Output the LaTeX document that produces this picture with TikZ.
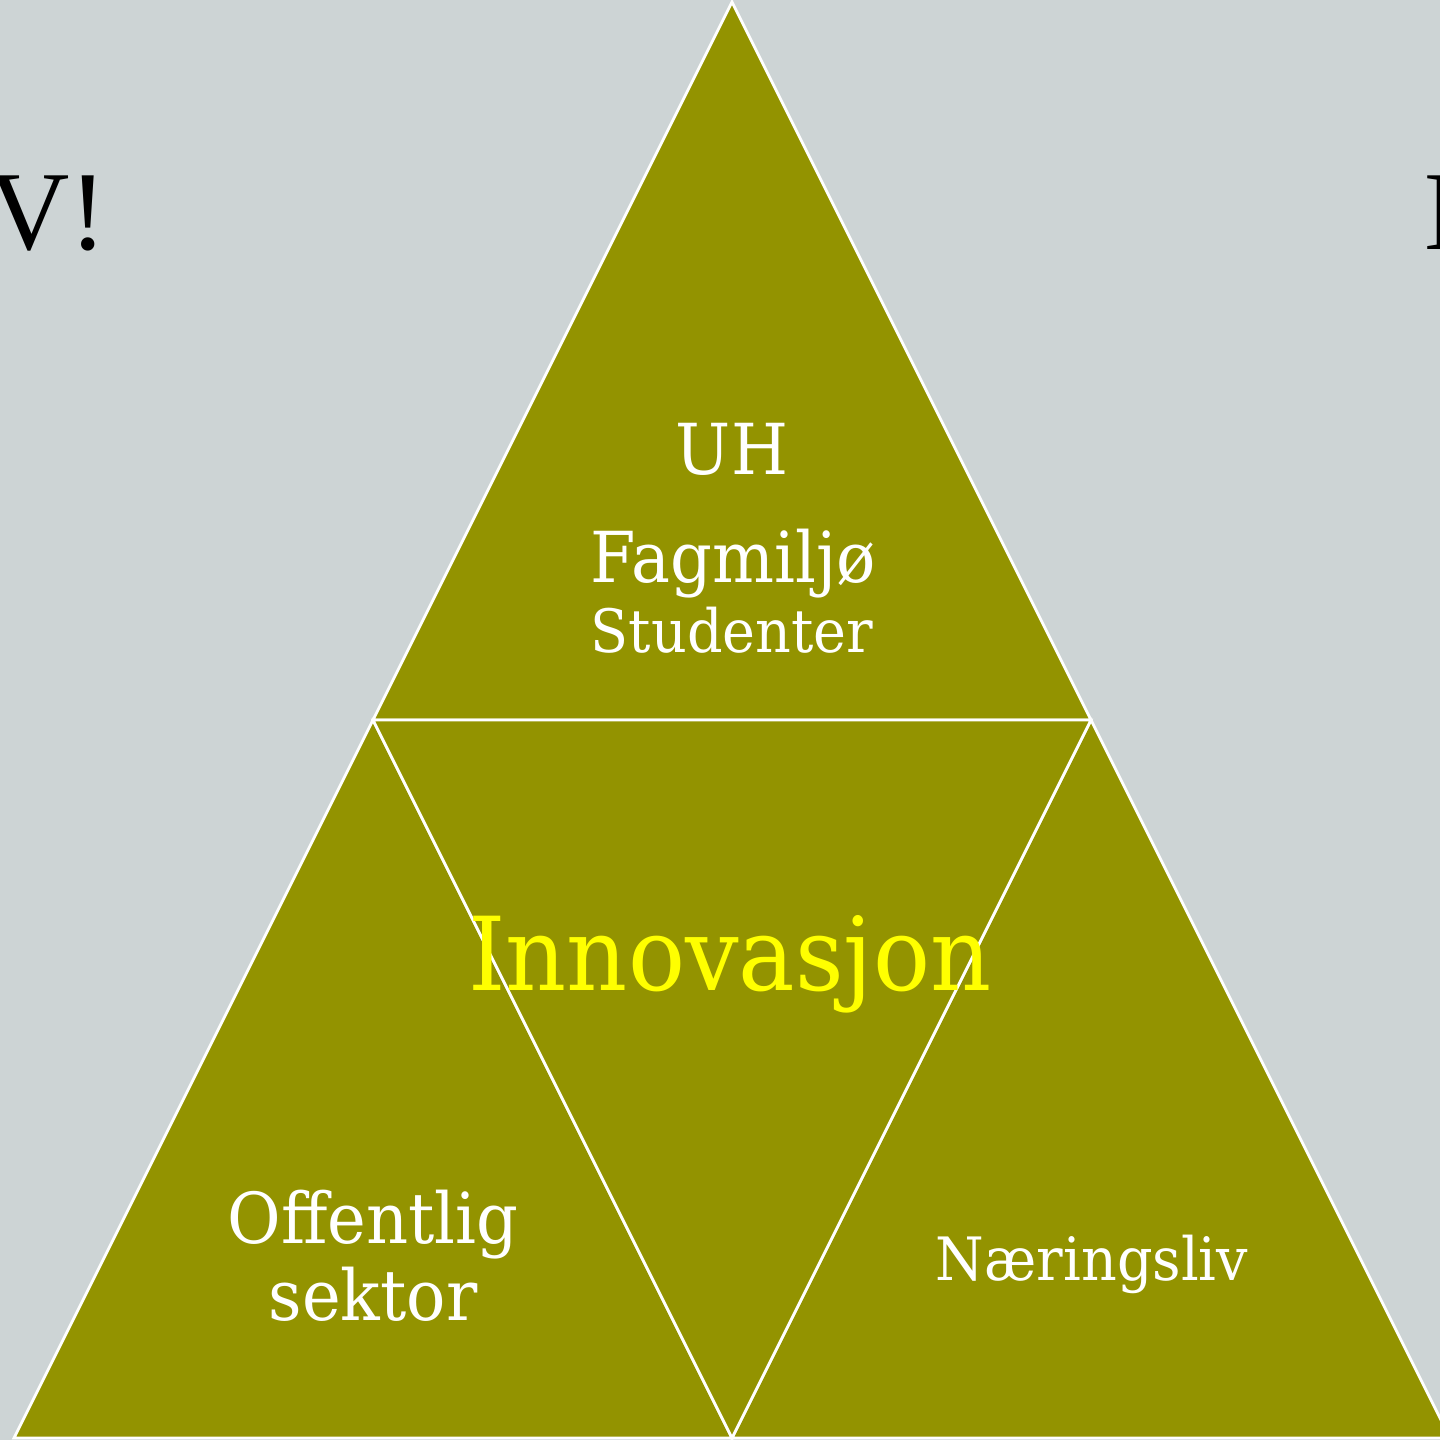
\documentclass[tikz,border=0pt]{standalone}
\usepackage{fontspec}
\setmainfont{DejaVu Serif}[FakeStretch=0.93]
\newfontfamily\blackfont{Liberation Serif}
\begin{document}
\begin{tikzpicture}[x=0.01cm,y=-0.01cm,
  tri/.style={fill=olive1,draw=white,line width=0.8pt,line join=miter},
  lbl/.style={text=white,inner sep=0pt,align=center},
  side/.style={anchor=base west,inner sep=0pt,font=\blackfont\fontsize{32}{33}\selectfont},
  ]
\definecolor{bg}{HTML}{CDD4D5}
\definecolor{olive1}{HTML}{939300}
\definecolor{innov}{HTML}{FFFF00}
\fill[bg] (0,0) rectangle (1440,1440);
\useasboundingbox (0,0) rectangle (1440,1440);
\begin{scope}
\clip (0,0) rectangle (1440,1440);
\coordinate (A) at (732,2);
\coordinate (L) at (14,1438);
\coordinate (R) at (1450,1438);
\coordinate (ML) at (373,720);
\coordinate (MR) at (1091,720);
\coordinate (MB) at (732,1438);
\draw[tri] (A) -- (ML) -- (MR) -- cycle;
\draw[tri] (ML) -- (L) -- (MB) -- cycle;
\draw[tri] (MR) -- (MB) -- (R) -- cycle;
\draw[tri] (ML) -- (MR) -- (MB) -- cycle;
\node[side] (vtxt) at (-12,250) {V!};
\node[side] (dtxt) at (1424,250) {D};
\end{scope}
\node[lbl,anchor=base,font=\fontsize{20}{21}\selectfont] (uh) at (732,475) {UH};
\node[lbl,anchor=base,font=\fontsize{20}{21}\selectfont] (fag) at (733,582) {Fagmiljø};
\node[lbl,anchor=base,font=\fontsize{17}{18}\selectfont] (stud) at (732,652) {Studenter};
\node[lbl,anchor=base,text=innov,font=\fontsize{29}{30}\selectfont] (inn) at (730,990) {Innovasjon};
\node[lbl,anchor=base,font=\fontsize{20}{21}\selectfont] (off) at (373,1243) {Offentlig};
\node[lbl,anchor=base,font=\fontsize{20}{21}\selectfont] (sek) at (373,1320) {sektor};
\node[lbl,anchor=base,font=\fontsize{17}{18}\selectfont] (naer) at (1092,1280) {Næringsliv};
\end{tikzpicture}
\end{document}
